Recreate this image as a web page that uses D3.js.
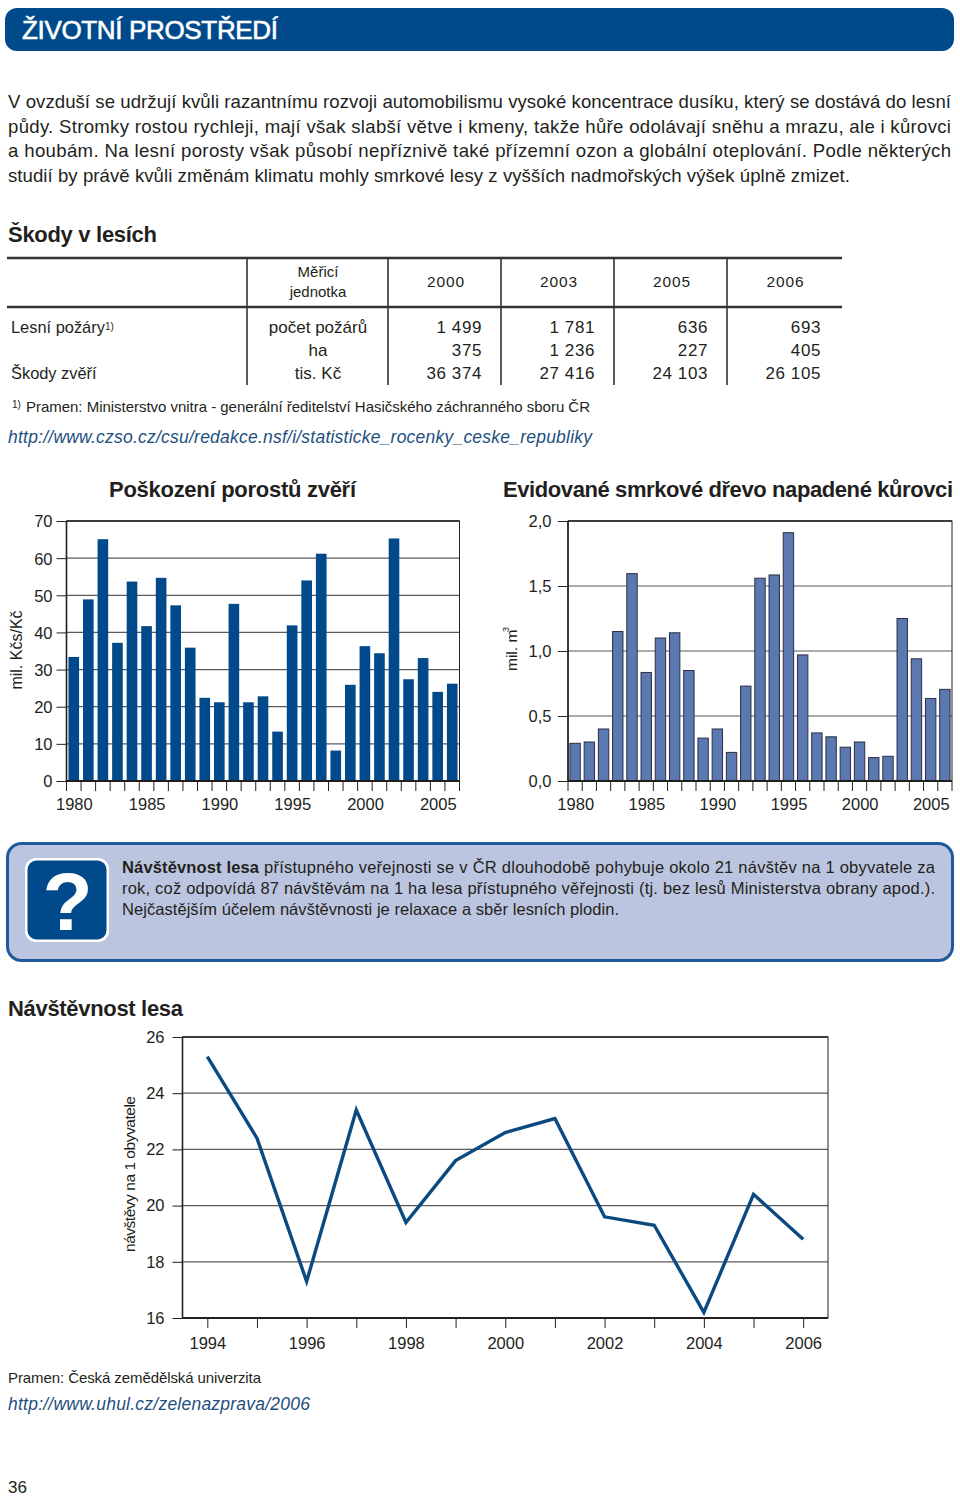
<!DOCTYPE html>
<html><head><meta charset="utf-8">
<script src="https://cdn.jsdelivr.net/npm/d3@7/dist/d3.min.js"></script>
<style>
html,body{margin:0;padding:0;background:#fff}
svg{display:block}
text{font-family:"Liberation Sans",Arial,sans-serif;fill:#231f20}
.tick text{font-size:16.5px;letter-spacing:0}
</style></head><body><div id="c"></div>
<script>
const years = d3.range(1980, 2007);
const damageValues = [33.4,48.9,65.1,37.2,53.7,41.7,54.7,47.3,35.9,22.4,21.2,47.7,21.2,22.8,13.3,41.9,54,61.2,8.2,25.9,36.3,34.4,65.3,27.4,33.1,24,26.2];
const barkValues = [0.29,0.30,0.40,1.15,1.595,0.835,1.10,1.14,0.85,0.33,0.40,0.22,0.73,1.56,1.585,1.91,0.97,0.37,0.34,0.26,0.30,0.18,0.19,1.25,0.94,0.635,0.705];
const visitYears = d3.range(1994, 2007);
const visitValues = [25.3,22.4,17.3,23.4,19.4,21.6,22.6,23.1,19.6,19.3,16.2,20.4,18.8];
const tableYears = ["2000","2003","2005","2006"];
const tableRows = [
 ["Lesní požáry","počet požárů","1 499","1 781","636","693"],
 ["","ha","375","1 236","227","405"],
 ["Škody zvěří","tis. Kč","36 374","27 416","24 103","26 105"]];
const introLines = [
 "V ovzduší se udržují kvůli razantnímu rozvoji automobilismu vysoké koncentrace dusíku, který se dostává do lesní",
 "půdy. Stromky rostou rychleji, mají však slabší větve i kmeny, takže hůře odolávají sněhu a mrazu, ale i kůrovci",
 "a houbám. Na lesní porosty však působí nepříznivě také přízemní ozon a globální oteplování. Podle některých",
 "studií by právě kvůli změnám klimatu mohly smrkové lesy z vyšších nadmořských výšek úplně zmizet."];
const boxLines = [
 "přístupného veřejnosti se v ČR dlouhodobě pohybuje okolo 21 návštěv na 1 obyvatele za",
 "rok, což odpovídá 87 návštěvám na 1 ha lesa přístupného věřejnosti (tj. bez lesů Ministerstva obrany apod.).",
 "Nejčastějším účelem návštěvnosti je relaxace a sběr lesních plodin."];

const BLUE="#004a8c", MID="#5b78b1", INK="#231f20", GRID="#5a5a5a";
const svg=d3.select("#c").append("svg").attr("width",960).attr("height",1496);

function t(str,x,y,size,o={}){
  const e=svg.append("text").attr("x",x).attr("y",y).attr("font-size",size).text(str);
  if(o.w){e.attr("textLength",o.w).attr("lengthAdjust","spacing");}
  if(o.anchor)e.attr("text-anchor",o.anchor);
  if(o.bold)e.attr("font-weight","bold");
  if(o.italic)e.attr("font-style","italic");
  if(o.fill)e.style("fill",o.fill);
  if(o.stroke)e.style("stroke",o.stroke).style("stroke-width",o.sw||.3);
  if(o.rot!==undefined)e.attr("transform",`rotate(${o.rot} ${x} ${y})`);
  return e;
}

// header
svg.append("rect").attr("x",5).attr("y",8).attr("width",949).attr("height",43).attr("rx",12).attr("fill",BLUE);
t("ŽIVOTNÍ PROSTŘEDÍ",22,39,26,{w:256,fill:"#fff",stroke:"#fff",sw:.6});

// intro
const introY=[108,133,157,182], introW=[943,943,943,842];
introLines.forEach((l,i)=>t(l,8,introY[i],18.6,{w:introW[i]}));

// table
t("Škody v lesích",8,242,22,{bold:true,w:149});
const hl=(x1,x2,y,w,c=INK)=>svg.append("line").attr("x1",x1).attr("x2",x2).attr("y1",y).attr("y2",y).attr("stroke",c).attr("stroke-width",w);
const vl=(x,y1,y2,w,c=INK)=>svg.append("line").attr("x1",x).attr("x2",x).attr("y1",y1).attr("y2",y2).attr("stroke",c).attr("stroke-width",w);
hl(7,842,258,2.4,"#333"); hl(7,842,307,2.4,"#333");
[247,388,501,614,727].forEach(x=>vl(x,258,385,1.6,"#333"));
t("Měřicí",318,277,15,{anchor:"middle"});
t("jednotka",318,297,15,{anchor:"middle"});
const colC=[445.5,558.5,671.5,785], colR=[482,595,708,821], rowY=[333,356,379];
tableYears.forEach((y,i)=>t(y,colC[i],287,15.5,{anchor:"middle",w:37}));
tableRows.forEach((r,j)=>{
  if(r[0])t(r[0],11,rowY[j],16.4,{});
  t(r[1],318,rowY[j],17,{anchor:"middle"});
  r.slice(2).forEach((v,i)=>t(v,colR[i],rowY[j],17,{anchor:"end"}).style("letter-spacing",".6px"));
});
t("1)",105,330,10);
t("1)",12,408,10);
t("Pramen: Ministerstvo vnitra - generální ředitelství Hasičského záchranného sboru ČR",26,412,15,{w:564});
t("http://www.czso.cz/csu/redakce.nsf/i/statisticke_rocenky_ceske_republiky",8,443,17.5,{italic:true,w:584,fill:"#1d4f80"});

// bar charts
function barChart(o){
  const x=d3.scaleBand().domain(years).range([o.left,o.right]).paddingInner(.27).paddingOuter(.135);
  const y=d3.scaleLinear().domain([0,o.max]).range([o.bottom,o.top]);
  const g=svg.append("g");
  g.append("g").selectAll("line").data(o.ticks.filter(v=>v>0&&v<o.max)).join("line")
    .attr("x1",o.left).attr("x2",o.right).attr("y1",d=>y(d)).attr("y2",d=>y(d)).attr("stroke",GRID).attr("stroke-width",1.2);
  g.append("g").selectAll("rect").data(o.values).join("rect")
    .attr("x",(d,i)=>x(years[i])).attr("width",x.bandwidth())
    .attr("y",d=>y(d)).attr("height",d=>o.bottom-y(d))
    .attr("fill",o.fill).attr("stroke",o.stroke||"none").attr("stroke-width",o.stroke?1:0);
  g.append("rect").attr("x",o.left).attr("y",o.top).attr("width",o.right-o.left).attr("height",o.bottom-o.top).attr("fill","none").attr("stroke",INK).attr("stroke-width",1);
  vl(o.left,o.top,o.bottom,1.6); hl(o.left,o.right,o.bottom,2); hl(o.left,o.right,o.top,1.6);
  const ay=d3.axisLeft(y).tickValues(o.ticks).tickSize(10).tickPadding(o.pad).tickFormat(o.fmt);
  const gy=g.append("g").attr("transform",`translate(${o.left},0)`).call(ay);
  gy.select(".domain").remove(); gy.selectAll(".tick line").attr("stroke",INK).attr("stroke-width",1);
  gy.selectAll("text").attr("dy","0.36em").attr("font-family",null).attr("font-size",null);
  // tick marks on band edges, labels on band centres
  const ax=d3.axisBottom(x).tickValues(years.filter(v=>v%5===0)).tickSize(0).tickPadding(17);
  const gx=g.append("g").attr("transform",`translate(0.6,${o.bottom})`).call(ax);
  gx.select(".domain").remove();
  gx.selectAll("text").attr("font-family",null).attr("font-size",null);
  const step=x.step(), off=step*x.paddingOuter();
  g.append("g").selectAll("line").data(years.concat([2007])).join("line")
    .attr("x1",d=>d===2007?o.right:x(d)-off).attr("x2",d=>d===2007?o.right:x(d)-off)
    .attr("y1",o.bottom).attr("y2",o.bottom+10).attr("stroke",INK).attr("stroke-width",1);
}
t("Poškození porostů zvěří",109,497,22,{bold:true,w:247});
barChart({left:66.5,right:459.5,top:521,bottom:781,max:70,ticks:d3.range(0,71,10),values:damageValues,fill:BLUE,fmt:d3.format("d"),pad:4});
t("mil. Kčs/Kč",21.5,650,16,{anchor:"middle",rot:-90});

t("Evidované smrkové dřevo napadené kůrovci",503,497,22,{bold:true,w:450});
const comma=d=>d.toFixed(1).replace(".",",");
barChart({left:568,right:952,top:521,bottom:781,max:2,ticks:[0,.5,1,1.5,2],values:barkValues,fill:MID,stroke:"#2b2f45",fmt:comma,pad:6.5});
t("mil. m",517,671,15.5,{rot:-90});
t("3",509,632,9,{rot:-90});

// question box
svg.append("rect").attr("x",7.5).attr("y",843.5).attr("width",945).attr("height",117).attr("rx",14).attr("fill","#bcc5df").attr("stroke","#1f5a9a").attr("stroke-width",3);
svg.append("rect").attr("x",25).attr("y",858).attr("width",84).attr("height",84).attr("rx",11).attr("fill","#fff");
svg.append("rect").attr("x",27.5).attr("y",860.5).attr("width",79).attr("height",79).attr("rx",9).attr("fill",BLUE);
t("?",67.5,930,82,{anchor:"middle",bold:true,fill:"#fff"});
t("Návštěvnost lesa",122,873,16.5,{bold:true,w:137});
t(boxLines[0],264,873,16.5,{w:671});
t(boxLines[1],122,894,16.5,{w:813});
t(boxLines[2],122,915,16.5,{w:497});

// line chart
t("Návštěvnost lesa",8,1016,22,{bold:true,w:175});
(function(){
  const L=182.5,R=828,T=1037,B=1318;
  const x=d3.scalePoint().domain(visitYears).range([L,R]).padding(.5);
  const y=d3.scaleLinear().domain([16,26]).range([B,T]);
  const ticks=[16,18,20,22,24,26];
  svg.append("g").selectAll("line").data(ticks.filter(v=>v>16&&v<26)).join("line")
    .attr("x1",L).attr("x2",R).attr("y1",d=>y(d)).attr("y2",d=>y(d)).attr("stroke",GRID).attr("stroke-width",1.2);
  svg.append("rect").attr("x",L).attr("y",T).attr("width",R-L).attr("height",B-T).attr("fill","none").attr("stroke",INK).attr("stroke-width",1);
  vl(L,T,B,1.6); hl(L,R,B,2); hl(L,R,T,1.6);
  const gy=svg.append("g").attr("transform",`translate(${L},0)`).call(d3.axisLeft(y).tickValues(ticks).tickSize(10).tickPadding(8).tickFormat(d3.format("d")));
  gy.select(".domain").remove(); gy.selectAll(".tick line").attr("stroke",INK);
  gy.selectAll("text").attr("font-family",null).attr("font-size",null);
  const gx=svg.append("g").attr("transform",`translate(0,${B})`).call(d3.axisBottom(x).tickSize(10).tickPadding(9).tickFormat((d,i)=>i%2===0?d:""));
  gx.select(".domain").remove(); gx.selectAll(".tick line").attr("stroke",INK);
  gx.selectAll("text").attr("font-family",null).attr("font-size",null);
  const line=d3.line().x((d,i)=>x(visitYears[i])).y(d=>y(d));
  svg.append("path").attr("d",line(visitValues)).attr("fill","none").attr("stroke","#0b4a80").attr("stroke-width",3.4).attr("stroke-linejoin","miter");
})();
t("návštěvy na 1 obyvatele",135,1174,15.5,{anchor:"middle",rot:-90,w:156});

// footer
t("Pramen: Česká zemědělská univerzita",8,1383,15,{w:253});
t("http://www.uhul.cz/zelenazprava/2006",8,1410,17.5,{italic:true,w:302,fill:"#1d4f80"});
t("36",8,1493,17);
</script></body></html>
